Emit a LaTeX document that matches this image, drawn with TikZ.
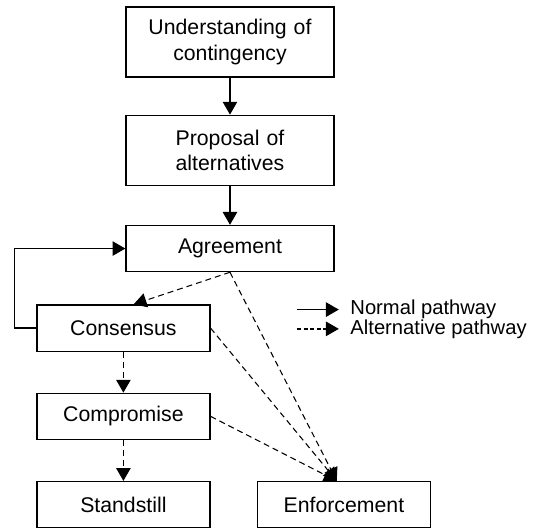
\documentclass[tikz,border=0pt]{standalone}
\usepackage{fontspec}
\setmainfont{Liberation Sans}
\usepackage{tikz}
\usetikzlibrary{arrows.meta, positioning}

\begin{document}
\begin{tikzpicture}[
    font=\fontsize{16}{19}\selectfont,
    boxMain/.style={
        rectangle,
        draw=black,
        line width=1pt,
        minimum width=5.5cm,
        text width=5.2cm,
        align=center
    },
    boxSide/.style={
        rectangle,
        draw=black,
        line width=1pt,
        minimum width=4.58cm,
        minimum height=1.22cm,
        align=center
    },
    normalArrow/.style={
        -{Triangle[length=3.4mm,width=3.8mm]},
        line width=1.1pt
    },
    altArrow/.style={
        -{Triangle[length=3.4mm,width=3.8mm]},
        dash pattern=on 4.5pt off 3pt,
        line width=0.8pt
    },
    legText/.style={
        inner sep=0pt,
        font=\fontsize{15.2}{17}\selectfont
    }
]

\useasboundingbox (-6.085,1.111) rectangle (8.229,-12.86);

% Main column
\node[boxMain, minimum height=1.85cm] (contin) {Understanding of\\contingency};
\node[boxMain, minimum height=1.85cm, below=0.98cm of contin] (propos) {Proposal of\\alternatives};
\node[boxMain, minimum height=1.22cm, below=1.03cm of propos] (agree) {Agreement};

% Left column
\node[boxSide, below=0.85cm of agree, xshift=-2.82cm] (consens) {Consensus};
\node[boxSide, below=1.08cm of consens] (compro) {Compromise};
\node[boxSide, below=1.08cm of compro] (stand) {Standstill};
\node[boxSide, right=1.22cm of stand] (enforce) {Enforcement};

\coordinate (hit) at ([xshift=-1.9mm]enforce.north);

% Normal pathway
\draw[normalArrow] (contin) -- (propos);
\draw[normalArrow] (propos) -- (agree);
\draw[normalArrow] (consens.west) -- ++(-0.57,0) |- (agree.west);

% Alternative pathway
\draw[altArrow] (agree.south) -- ([xshift=2.7mm]consens.north);
\draw[altArrow, line width=1.1pt] (consens) -- (compro);
\draw[altArrow, line width=1.1pt] (compro) -- (stand);
\draw[altArrow] (agree.south) -- (hit);
\draw[altArrow] (consens.east) -- (hit);
\draw[altArrow] (compro.east) -- (hit);

% Legend
\coordinate (legA) at (1.77,-7.08);
\coordinate (legB) at (2.88,-7.08);
\coordinate (legC) at (1.77,-7.59);
\coordinate (legD) at (2.88,-7.59);
\draw[normalArrow] (legA) -- (legB);
\draw[altArrow, line width=1.1pt, dash pattern=on 3pt off 2pt] (legC) -- (legD);
\node[legText, right=0.3cm of legB] (legNorm) {Normal pathway};
\node[legText, right=0.3cm of legD] (legAlt) {Alternative pathway};

\end{tikzpicture}
\end{document}
